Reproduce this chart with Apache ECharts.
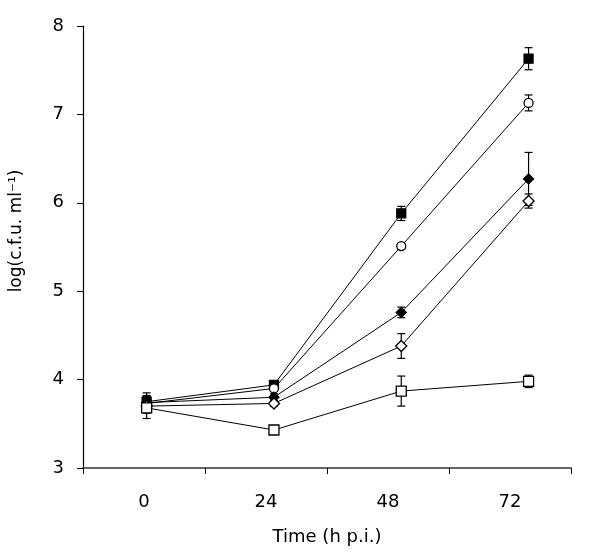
<!DOCTYPE html>
<html>
<head>
<meta charset="utf-8">
<script src="https://cdn.jsdelivr.net/npm/echarts@6/dist/echarts.min.js"></script>
<style>html,body{margin:0;padding:0;background:#fff}#c{width:606px;height:560px}</style>
</head>
<body>
<div id="c"></div>
<script>
const timeLabels = ['0', '24', '48', '72'];
const hours = [0, 24, 48, 72];
const yTicks = [3, 4, 5, 6, 7, 8];

const filledSquare = [3.75, 3.94, 5.88, 7.63];
const filledSquareErr = [0.1, 0.03, 0.08, 0.125];
const openCircle = [3.73, 3.90, 5.51, 7.13];
const openCircleErr = [0.08, 0.03, 0.03, 0.09];
const filledDiamond = [3.74, 3.80, 4.76, 6.27];
const filledDiamondErr = [0.08, 0.04, 0.06, 0.3];
const openDiamond = [3.70, 3.73, 4.38, 6.02];
const openDiamondErr = [0.08, 0.03, 0.14, 0.08];
const openSquare = [3.68, 3.43, 3.87, 3.98];
const openSquareErr = [0.12, 0.03, 0.17, 0.07];

const groups = [
  {name: 'filledSquare', vals: filledSquare, err: filledSquareErr, symbol: 'rect', size: 9, fill: '#000'},
  {name: 'openCircle', vals: openCircle, err: openCircleErr, symbol: 'circle', size: 9, fill: '#fff'},
  {name: 'filledDiamond', vals: filledDiamond, err: filledDiamondErr, symbol: 'diamond', size: 10, fill: '#000'},
  {name: 'openDiamond', vals: openDiamond, err: openDiamondErr, symbol: 'diamond', size: 11, fill: '#fff'},
  {name: 'openSquare', vals: openSquare, err: openSquareErr, symbol: 'rect', size: 10, fill: '#fff'}
];

const FONT = 'DejaVu Sans';
const series = [];
groups.forEach(g => {
  series.push({
    type: 'custom',
    name: g.name + 'Err',
    xAxisIndex: 1,
    z: 1,
    silent: true,
    data: g.vals.map((v, i) => [hours[i], v - g.err[i], v + g.err[i]]),
    renderItem: function (params, api) {
      const lo = api.coord([api.value(0), api.value(1)]);
      const hi = api.coord([api.value(0), api.value(2)]);
      const w = 4;
      const st = {stroke: '#000', lineWidth: 1.2};
      return {
        type: 'group',
        children: [
          {type: 'line', shape: {x1: hi[0], y1: hi[1], x2: lo[0], y2: lo[1]}, style: st},
          {type: 'line', shape: {x1: hi[0] - w, y1: hi[1], x2: hi[0] + w, y2: hi[1]}, style: st},
          {type: 'line', shape: {x1: lo[0] - w, y1: lo[1], x2: lo[0] + w, y2: lo[1]}, style: st}
        ]
      };
    }
  });
  series.push({
    type: 'line',
    name: g.name,
    xAxisIndex: 1,
    z: 3,
    data: g.vals.map((v, i) => [hours[i], v]),
    symbol: g.symbol,
    symbolSize: g.size,
    showAllSymbol: true,
    lineStyle: {color: '#000', width: 1},
    itemStyle: {color: g.fill, borderColor: '#000', borderWidth: 1.3},
    emphasis: {disabled: true}
  });
});

const chart = echarts.init(document.getElementById('c'), null, {renderer: 'canvas'});
chart.setOption({
  animation: false,
  backgroundColor: '#fff',
  grid: {left: 78, right: 35, top: 26, bottom: 92},
  xAxis: [{
    type: 'category',
    data: timeLabels,
    boundaryGap: true,
    name: 'Time (h p.i.)',
    nameLocation: 'middle',
    nameGap: 60,
    nameTextStyle: {fontFamily: FONT, fontSize: 18, color: '#000'},
    axisLine: {onZero: false, lineStyle: {color: '#333', width: 1.5}},
    axisTick: {show: true, alignWithLabel: false, length: 6, lineStyle: {color: '#000'}},
    axisLabel: {fontFamily: FONT, fontSize: 18, color: '#000', margin: 25},
    splitLine: {show: false}
  }, {
    type: 'value',
    min: -12,
    max: 80,
    show: false,
    position: 'bottom',
    axisLine: {onZero: false}
  }],
  yAxis: {
    type: 'value',
    min: yTicks[0],
    max: yTicks[yTicks.length - 1],
    interval: 1,
    name: 'log(c.f.u. ml⁻¹)',
    nameLocation: 'middle',
    nameGap: 58,
    nameTextStyle: {fontFamily: FONT, fontSize: 17, color: '#000', padding: [0, 0, 0, 32]},
    axisLine: {show: true, onZero: false, lineStyle: {color: '#000', width: 1.2}},
    axisTick: {show: true, length: 6, lineStyle: {color: '#000'}},
    axisLabel: {fontFamily: FONT, fontSize: 18, color: '#000', margin: 19},
    splitLine: {show: false}
  },
  series: series
});
</script>
</body>
</html>
